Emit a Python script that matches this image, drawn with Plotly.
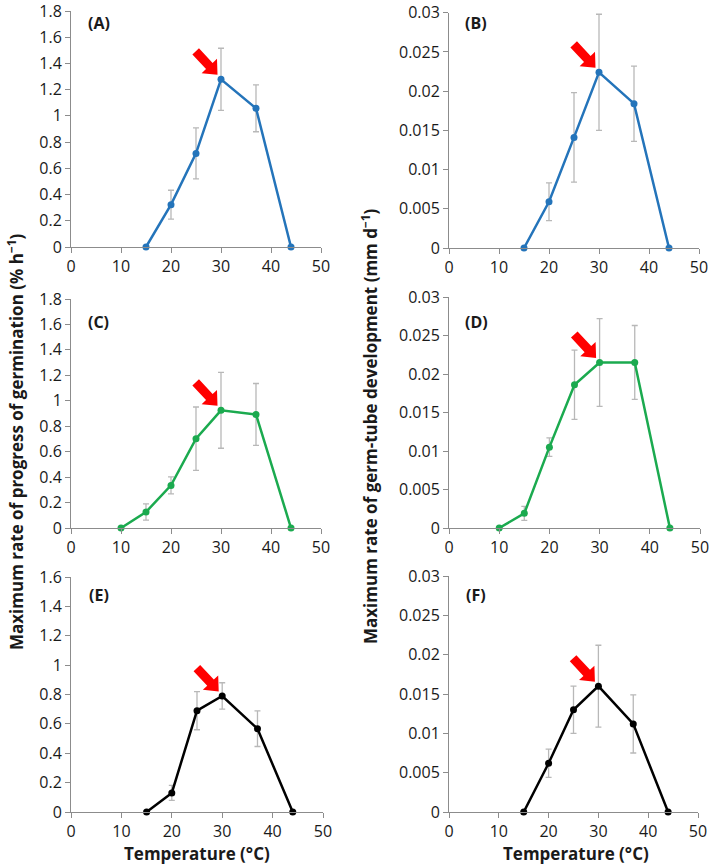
import math
import plotly.graph_objects as go

# ---------------- data ----------------
temps_ab = [15, 20, 25, 30, 37, 44]
temps_cd = [10, 15, 20, 25, 30, 37, 44]
temps_ef = [15, 20, 25, 30, 37, 44]

germ_a = [0, 0.323, 0.714, 1.279, 1.058, 0]
germ_a_err = [0, 0.11, 0.195, 0.237, 0.179, 0]
tube_b = [0, 0.0059, 0.0141, 0.0224, 0.0184, 0]
tube_b_err = [0, 0.0024, 0.0057, 0.0074, 0.0048, 0]

germ_c = [0, 0.126, 0.335, 0.702, 0.925, 0.893, 0]
germ_c_err = [0, 0.064, 0.067, 0.249, 0.298, 0.243, 0]
tube_d = [0, 0.0019, 0.0105, 0.0186, 0.0215, 0.0215, 0]
tube_d_err = [0, 0.0009, 0.0012, 0.0045, 0.0057, 0.0048, 0]

germ_e = [0, 0.130, 0.690, 0.790, 0.567, 0]
germ_e_err = [0, 0.051, 0.13, 0.09, 0.121, 0]
tube_f = [0, 0.0062, 0.0130, 0.0160, 0.0112, 0]
tube_f_err = [0, 0.0018, 0.0030, 0.0052, 0.0037, 0]

panel_labels = ["(A)", "(B)", "(C)", "(D)", "(E)", "(F)"]
x_ticks = [0, 10, 20, 30, 40, 50]
arrow_temp = 30

BLUE = "#2474BA"
GREEN = "#1BAA4F"
BLACK = "#000000"
ERR = "#B8B8B8"
AXIS = "#8C8C8C"
TXT = "#1a1a1a"
FONT = "Open Sans"

W, H = 709, 864

panels = [
    dict(x=temps_ab, y=germ_a, e=germ_a_err, c=BLUE, xd=(71, 321), yd=(11, 247), yr=1.8, dt=0.2,
         lab=(86, 23.5)),
    dict(x=temps_ab, y=tube_b, e=tube_b_err, c=BLUE, xd=(449, 699), yd=(12.7, 248), yr=0.03, dt=0.005,
         lab=(463, 23)),
    dict(x=temps_cd, y=germ_c, e=germ_c_err, c=GREEN, xd=(71, 321), yd=(299, 528), yr=1.8, dt=0.2,
         lab=(86, 322)),
    dict(x=temps_cd, y=tube_d, e=tube_d_err, c=GREEN, xd=(449, 700), yd=(297, 528), yr=0.03, dt=0.005,
         lab=(463, 322)),
    dict(x=temps_ef, y=germ_e, e=germ_e_err, c=BLACK, xd=(71, 323), yd=(577, 812), yr=1.6, dt=0.2,
         lab=(87, 595)),
    dict(x=temps_ef, y=tube_f, e=tube_f_err, c=BLACK, xd=(449, 698), yd=(576, 812), yr=0.03, dt=0.005,
         lab=(464, 595)),
]


def arrow_path(tip_dx=-3.5, tip_dy=4.5, length=32, head_len=12, head_hw=10.5, shaft_hw=4.5, ang=-47):
    a = math.radians(ang)
    ux, uy = math.cos(a), math.sin(a)
    vx, vy = -uy, ux
    tx, ty = tip_dx, tip_dy
    bx, by = tx - head_len * ux, ty - head_len * uy
    ex, ey = tx - length * ux, ty - length * uy
    pts = [
        (tx, ty),
        (bx + head_hw * vx, by + head_hw * vy),
        (bx + shaft_hw * vx, by + shaft_hw * vy),
        (ex + shaft_hw * vx, ey + shaft_hw * vy),
        (ex - shaft_hw * vx, ey - shaft_hw * vy),
        (bx - shaft_hw * vx, by - shaft_hw * vy),
        (bx - head_hw * vx, by - head_hw * vy),
    ]
    return "M " + " L ".join(f"{px:.2f},{py:.2f}" for px, py in pts) + " Z"


fig = go.Figure()
layout = dict(
    width=W, height=H,
    margin=dict(l=0, r=0, t=0, b=0, autoexpand=False),
    paper_bgcolor="white", plot_bgcolor="white",
    showlegend=False,
    font=dict(family=FONT, size=16, color=TXT),
)
annotations = []
shapes = []

for i, p in enumerate(panels):
    n = "" if i == 0 else str(i + 1)
    xa, ya = "x" + n, "y" + n
    fig.add_trace(go.Scatter(
        x=p["x"], y=p["y"], xaxis=xa, yaxis=ya, mode="lines+markers",
        line=dict(color=p["c"], width=2.5),
        marker=dict(color=p["c"], size=7),
        error_y=dict(type="data", array=p["e"], color=ERR, thickness=1.3, width=3),
        cliponaxis=False,
    ))
    xd = [p["xd"][0] / W, p["xd"][1] / W]
    yd = [1 - p["yd"][1] / H, 1 - p["yd"][0] / H]
    common = dict(
        showline=True, linecolor=AXIS, linewidth=1, ticks="outside", ticklen=5, tickcolor=AXIS,
        showgrid=False, zeroline=False, automargin=False, ticklabeloverflow="allow",
        tickfont=dict(size=16, family=FONT, color=TXT),
    )
    layout["xaxis" + n] = dict(domain=xd, range=[0, 50], tickvals=x_ticks, anchor=ya, **common)
    layout["yaxis" + n] = dict(domain=yd, range=[0, p["yr"]], dtick=p["dt"], tick0=0, anchor=xa, **common)
    annotations.append(dict(
        text="<b>" + panel_labels[i] + "</b>", xref="paper", yref="paper",
        x=p["lab"][0] / W, y=1 - p["lab"][1] / H, xanchor="left", yanchor="middle",
        showarrow=False, font=dict(size=16, family=FONT, color=TXT),
    ))
    k = p["x"].index(arrow_temp)
    shapes.append(dict(
        type="path", xref=xa, yref=ya, xsizemode="pixel", ysizemode="pixel",
        xanchor=arrow_temp, yanchor=p["y"][k], path=arrow_path(),
        fillcolor="#FF0000", line=dict(width=0), layer="above",
    ))

# axis titles
annotations.append(dict(
    text="<b>Maximum rate of progress of germination (% h<sup>\u22121</sup>)</b>",
    xref="paper", yref="paper", x=15 / W, y=1 - 442 / H, textangle=-90,
    showarrow=False, xanchor="center", yanchor="middle", font=dict(size=17, family=FONT, color=TXT),
))
annotations.append(dict(
    text="<b>Maximum rate of germ-tube development (mm d<sup>\u22121</sup>)</b>",
    xref="paper", yref="paper", x=369 / W, y=1 - 426 / H, textangle=-90,
    showarrow=False, xanchor="center", yanchor="middle", font=dict(size=17, family=FONT, color=TXT),
))
for cx in (197, 576):
    annotations.append(dict(
        text="<b>Temperature (°C)</b>", xref="paper", yref="paper", x=cx / W, y=1 - 853 / H,
        showarrow=False, xanchor="center", yanchor="middle", font=dict(size=17, family=FONT, color=TXT),
    ))

layout["annotations"] = annotations
layout["shapes"] = shapes
fig.update_layout(**layout)
fig.write_html(
    "out.html",
    config={"displayModeBar": False},
    post_script="document.body.style.margin='0';document.body.style.overflow='hidden';",
)
